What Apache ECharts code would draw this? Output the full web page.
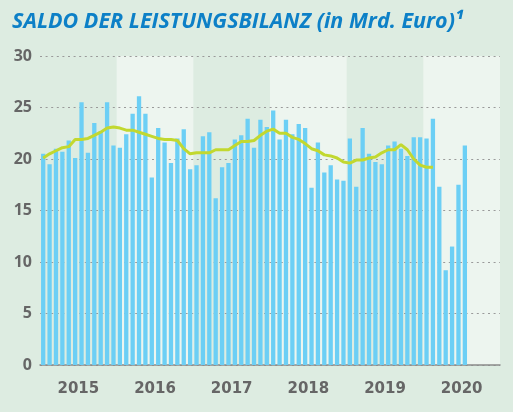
<!DOCTYPE html>
<html>
<head>
<meta charset="utf-8">
<script src="https://cdn.jsdelivr.net/npm/echarts@6/dist/echarts.min.js"></script>
<style>
  html, body { margin: 0; padding: 0; background: #ddece1; }
  #chart { width: 513px; height: 412px; }
</style>
</head>
<body>
<div id="chart"></div>
<script>
// Year labels along the bottom axis
const years = ['2015', '2016', '2017', '2018', '2019', '2020'];

// Monthly balance, bn euro
const saldo2015 = [20.5, 19.5, 21.0, 20.7, 21.8, 20.1, 25.5, 20.6, 23.5, 22.7, 25.5, 21.3];
const saldo2016 = [21.1, 22.4, 24.4, 26.1, 24.4, 18.2, 23.0, 21.6, 19.6, 22.0, 22.9, 19.0];
const saldo2017 = [19.4, 22.2, 22.6, 16.2, 19.2, 19.6, 21.9, 22.3, 23.9, 21.1, 23.8, 23.1];
const saldo2018 = [24.7, 21.9, 23.8, 22.4, 23.4, 23.0, 17.2, 21.6, 18.7, 19.4, 18.0, 17.9];
const saldo2019 = [22.0, 17.3, 23.0, 20.5, 19.7, 19.5, 21.3, 21.7, 21.0, 20.3, 22.1, 22.1];
const saldo2020 = [22.0, 23.9, 17.3, 9.2, 11.5, 17.5, 21.3];

// Moving average line
const avg2015 = [20.1, 20.5, 20.8, 21.1, 21.2, 21.9, 21.9, 22.0, 22.3, 22.6, 23.0, 23.1];
const avg2016 = [23.0, 22.8, 22.8, 22.6, 22.4, 22.2, 22.0, 21.9, 21.9, 21.8, 21.0, 20.5];
const avg2017 = [20.6, 20.6, 20.6, 20.9, 20.9, 20.9, 21.3, 21.7, 21.7, 21.8, 22.3, 22.7];
const avg2018 = [22.9, 22.5, 22.5, 22.1, 21.9, 21.5, 21.0, 20.8, 20.4, 20.3, 20.1, 19.7];
const avg2019 = [19.6, 19.9, 19.9, 20.1, 20.2, 20.6, 20.9, 20.9, 21.4, 20.9, 20.0, 19.4];
const avg2020 = [19.2, 19.2];

// Value axis ticks
const yTicks = [0, 5, 10, 15, 20, 25, 30];

const saldo = [].concat(saldo2015, saldo2016, saldo2017, saldo2018, saldo2019, saldo2020);
const avg = [].concat(avg2015, avg2016, avg2017, avg2018, avg2019, avg2020);

// one slot per month over the whole six-year span
const months = [];
years.forEach(y => {
  for (let m = 1; m <= 12; m++) months.push(y + '-' + String(m).padStart(2, '0'));
});

const bandLight = '#edf5ef';
const bands = years.map((y, i) => ({
  value: yTicks[yTicks.length - 1],
  itemStyle: { color: i % 2 === 1 ? bandLight : 'rgba(0,0,0,0)' }
}));

const chart = echarts.init(document.getElementById('chart'), null, { renderer: 'canvas' });
chart.setOption({
  animation: false,
  backgroundColor: '#ddece1',
  title: {
    text: 'SALDO DER LEISTUNGSBILANZ (in Mrd. Euro)¹',
    left: 12,
    top: 11,
    padding: 0,
    textStyle: {
      fontFamily: 'Open Sans',
      fontStyle: 'italic',
      fontWeight: 'bold',
      fontSize: 21.5,
      color: '#0d80c7'
    }
  },
  grid: { left: 40, right: 13, top: 56, bottom: 47, containLabel: false },
  xAxis: [
    {
      type: 'category',
      data: months,
      show: false,
      boundaryGap: true
    },
    {
      type: 'category',
      data: years,
      position: 'bottom',
      boundaryGap: true,
      z: 1,
      axisLine: { show: true, lineStyle: { color: '#8a8a8a', width: 1.5 } },
      axisTick: { show: false },
      axisLabel: {
        margin: 17,
        fontFamily: 'DejaVu Sans',
        fontWeight: 'bold',
        fontSize: 15,
        color: '#666666'
      }
    }
  ],
  yAxis: {
    type: 'value',
    min: yTicks[0],
    max: yTicks[yTicks.length - 1],
    interval: 5,
    z: 1,
    axisLine: { show: false },
    axisTick: { show: false },
    axisLabel: {
      margin: 8,
      fontFamily: 'Open Sans',
      fontWeight: 'bold',
      fontSize: 16,
      color: '#666666'
    },
    splitLine: {
      show: true,
      lineStyle: { color: '#9a9a9a', width: 1, type: [2, 3.6] }
    }
  },
  series: [
    {
      type: 'bar',
      xAxisIndex: 1,
      z: -1,
      barWidth: '100%',
      silent: true,
      data: bands
    },
    {
      type: 'bar',
      xAxisIndex: 0,
      z: 2,
      barWidth: 4.3,
      itemStyle: { color: '#6ccff5' },
      data: saldo
    },
    {
      type: 'line',
      xAxisIndex: 0,
      z: 3,
      symbol: 'none',
      lineStyle: { color: '#c2d82f', width: 3 },
      data: avg
    }
  ]
});
</script>
</body>
</html>
